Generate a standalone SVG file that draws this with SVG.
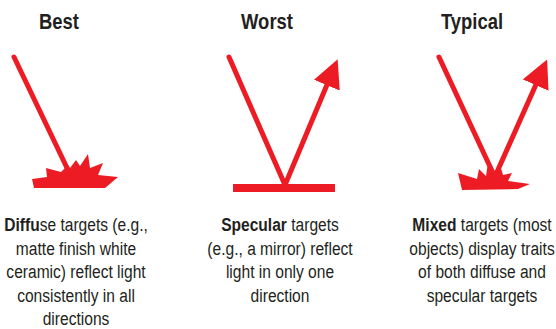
<svg xmlns="http://www.w3.org/2000/svg" width="556" height="329" viewBox="0 0 556 329">
  <style>
    .head { font-family: "Liberation Sans", Arial, sans-serif; font-size: 22.5px; font-weight: bold; fill: #231f20; text-anchor: middle; }
    .body { font-family: "Liberation Sans", Arial, sans-serif; font-size: 19px; fill: #231f20; text-anchor: middle; }
    .b { font-weight: bold; }
    .ray { stroke: #ed1c24; stroke-width: 5; stroke-linecap: round; fill: none; }
    .red { fill: #ed1c24; }
  </style>
  <defs>
    <marker id="tip" viewBox="0 0 10 10" refX="2" refY="5" markerWidth="5.6" markerHeight="5.6" markerUnits="strokeWidth" orient="auto">
      <path d="M0,0 L10,5 L0,10 Z" class="red"/>
    </marker>
  </defs>

  <!-- Best: diffuse reflection -->
  <g id="best">
    <path class="red" d="M32,179 L47,177 L46,168 L61,172 L68,165 L70,168 L76,160 L80,166 L88,154 L90,168 L103,163 L98,175 L118,177 L105,188 L34,188 Z"/>
    <!-- condensed lettering: horizontal squeeze around the column centre -->
    <g transform="translate(59 0) scale(0.82 1)">
      <text class="head" x="0" y="29.5">Best</text>
    </g>
    <g transform="translate(76 0) scale(0.82 1)">
      <text class="body" x="0" y="231.5"><tspan class="b">Diffu</tspan>se targets (e.g.,</text>
      <text class="body" x="0" y="255">matte finish white</text>
      <text class="body" x="0" y="278.5">ceramic) reflect light</text>
      <text class="body" x="0" y="302">consistently in all</text>
      <text class="body" x="0" y="325.5">directions</text>
    </g>
  </g>

  <!-- Worst: specular reflection -->
  <g id="worst">
    <rect class="red" x="233" y="184" width="102" height="8"/>
    <g transform="translate(267 0) scale(0.82 1)">
      <text class="head" x="0" y="29.5">Worst</text>
    </g>
    <g transform="translate(280 0) scale(0.82 1)">
      <text class="body" x="0" y="231.5"><tspan class="b">Specular</tspan> targets</text>
      <text class="body" x="0" y="255">(e.g., a mirror) reflect</text>
      <text class="body" x="0" y="278.5">light in only one</text>
      <text class="body" x="0" y="302">direction</text>
    </g>
  </g>

  <!-- Typical: mixed reflection -->
  <g id="typical">
    <path class="red" d="M458,173 L477,179 L479,169 L486,176 L488,163 L495,172 L500,165 L503,175 L512,173 L508,181 L530,184 L518,189 L462,190 Z"/>
    <g transform="translate(472 0) scale(0.82 1)">
      <text class="head" x="0" y="29.5">Typical</text>
    </g>
    <g transform="translate(482 0) scale(0.82 1)">
      <text class="body" x="0" y="231.5"><tspan class="b">Mixed</tspan> targets (most</text>
      <text class="body" x="0" y="255">objects) display traits</text>
      <text class="body" x="0" y="278.5">of both diffuse and</text>
      <text class="body" x="0" y="302">specular targets</text>
    </g>
  </g>

  <!-- light rays -->
  <g id="connectors">
    <line class="ray" x1="14" y1="57" x2="68" y2="170"/>
    <line class="ray" x1="229" y1="57" x2="285" y2="185"/>
    <line class="ray" x1="285" y1="185" x2="329" y2="80" stroke-linecap="butt" marker-end="url(#tip)"/>
    <line class="ray" x1="439" y1="57" x2="493" y2="173"/>
    <line class="ray" x1="497" y1="172" x2="538" y2="80" stroke-linecap="butt" marker-end="url(#tip)"/>
  </g>
</svg>
